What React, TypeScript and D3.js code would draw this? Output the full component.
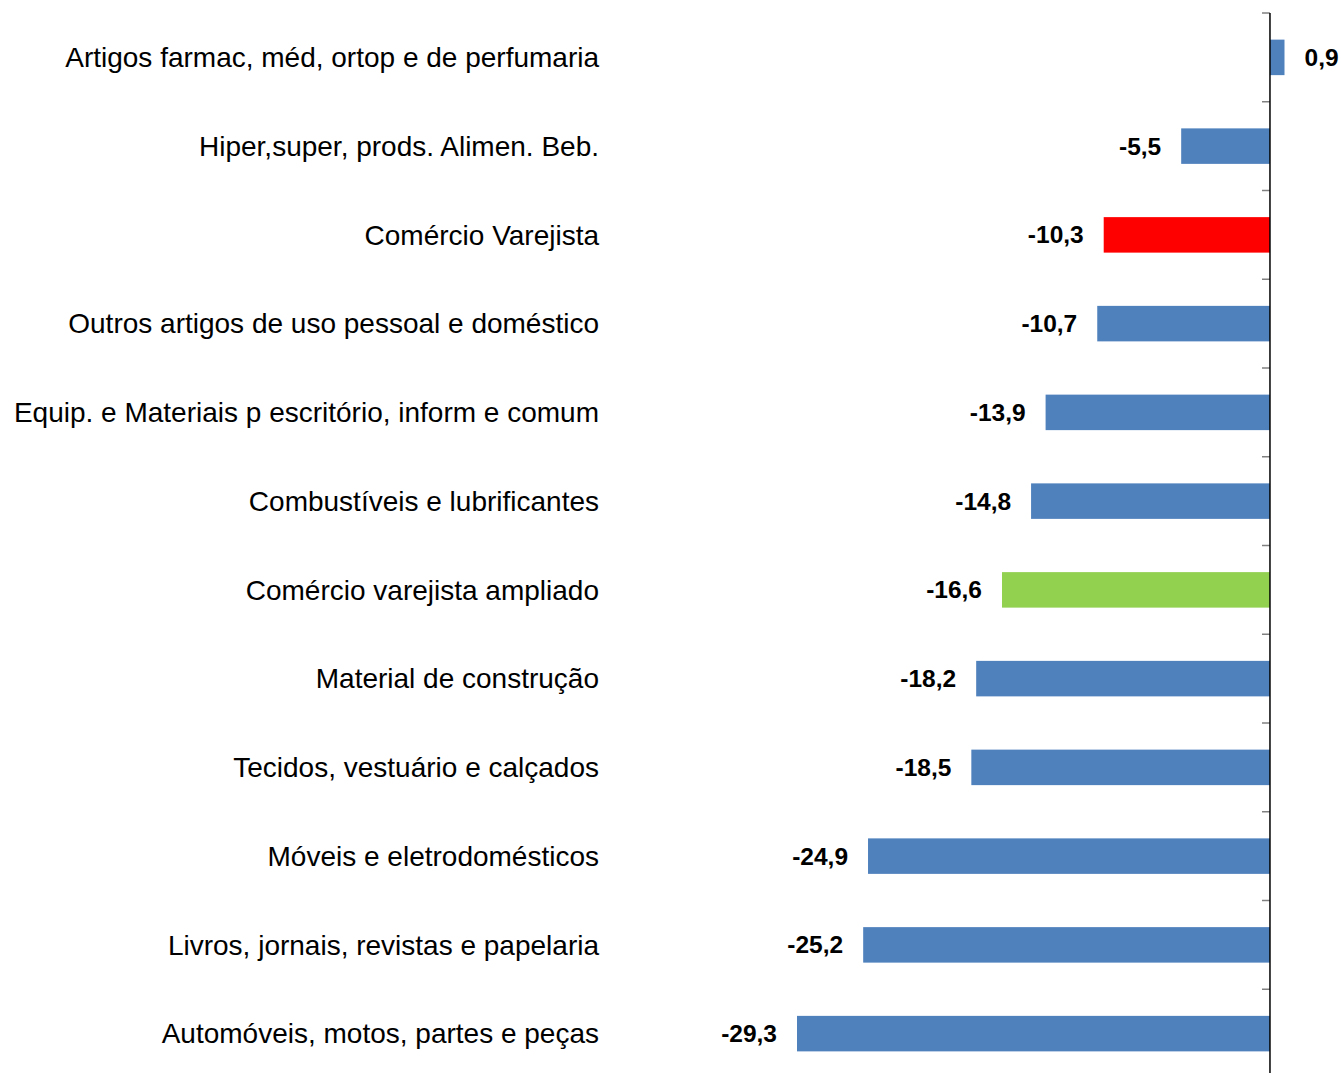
import React from "react";
import * as d3 from "d3";

const categories = [
  "Artigos farmac, méd, ortop e de perfumaria",
  "Hiper,super, prods. Alimen. Beb.",
  "Comércio Varejista",
  "Outros artigos de uso pessoal e doméstico",
  "Equip. e Materiais p escritório, inform e comum",
  "Combustíveis e lubrificantes",
  "Comércio varejista ampliado",
  "Material de construção",
  "Tecidos, vestuário e calçados",
  "Móveis e eletrodomésticos",
  "Livros, jornais, revistas e papelaria",
  "Automóveis, motos, partes e peças",
];
const values = [0.9, -5.5, -10.3, -10.7, -13.9, -14.8, -16.6, -18.2, -18.5, -24.9, -25.2, -29.3];
const highlight: Record<string, string> = {
  "Comércio Varejista": "#FF0000",
  "Comércio varejista ampliado": "#92D050",
};

const W = 1341;
const H = 1073;

export default function App() {
  const x = d3.scaleLinear().domain([-29.3, 0.9]).range([797, 1284.5]);
  const y = d3.scaleBand<string>().domain(categories).range([13, 13 + 12 * 88.75]).paddingInner(0.6).paddingOuter(0.3);
  const x0 = x(0);
  const fmt = (v: number) => v.toFixed(1).replace(".", ",");
  const ticks = d3.range(0, 13).map((i) => 13 + i * 88.75);
  return (
    <div style={{ position: "absolute", left: 0, top: 0 }}>
      <svg width={W} height={H} style={{ display: "block", fontFamily: "'Liberation Sans', Arial, sans-serif" }}>
        <rect width={W} height={H} fill="#fff" />
        {categories.map((c, i) => {
          const v = values[i];
          const yy = y(c)!;
          const bw = y.bandwidth();
          const xa = Math.min(x(v), x0);
          const xb = Math.max(x(v), x0);
          return (
            <g key={c}>
              <rect x={xa} y={yy} width={xb - xa} height={bw} fill={highlight[c] || "#4F81BD"} />
              <text x={599} y={yy + bw / 2} dy="0.35em" textAnchor="end" fontSize={28} fill="#000">
                {c}
              </text>
              <text
                x={v < 0 ? xa - 20 : xb + 20}
                y={yy + bw / 2}
                dy="0.35em"
                textAnchor={v < 0 ? "end" : "start"}
                fontSize={24.5}
                fontWeight="bold"
                fill="#000"
              >
                {fmt(v)}
              </text>
            </g>
          );
        })}
        {ticks.map((t, i) => (
          <line key={i} x1={x0 - 8} x2={x0} y1={t} y2={t} stroke="#808080" strokeWidth={1.5} />
        ))}
        <line x1={x0} x2={x0} y1={13} y2={H + 10} stroke="#000" strokeWidth={1.5} />
      </svg>
    </div>
  );
}
